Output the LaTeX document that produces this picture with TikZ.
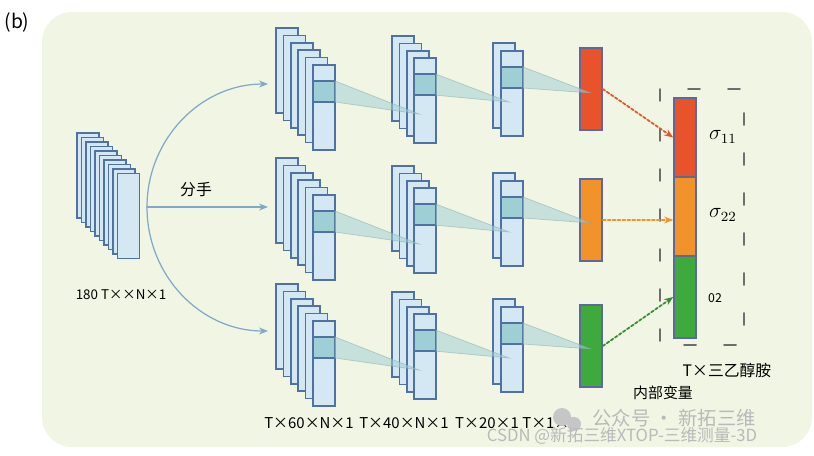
\documentclass[tikz,border=0pt]{standalone}
\usepackage{fontspec}
\newfontfamily\cjk{Noto Sans CJK SC}
\usepackage{tikz}
\usetikzlibrary{arrows.meta}
\definecolor{bgpaper}{HTML}{F1F5E3}
\definecolor{mapfill}{HTML}{D3E8F2}
\definecolor{mapline}{HTML}{4F72A2}
\definecolor{bandfill}{HTML}{9ECFD5}
\definecolor{funfill}{HTML}{A3CFD6}
\definecolor{splitblue}{HTML}{7EA9C9}
\definecolor{redbar}{HTML}{E9532B}
\definecolor{orangebar}{HTML}{F2922A}
\definecolor{greenbar}{HTML}{3EA93C}
\definecolor{barline}{HTML}{5B6A9A}
\definecolor{boxgray}{HTML}{6E6E6E}
\tikzset{
  fmap/.style={draw=mapline,fill=mapfill,line width=0.9pt},
  funnel/.style={fill=funfill,fill opacity=0.55,draw=funfill!80!black,draw opacity=0.5,line width=0.4pt},
  outbar/.style={draw=barline,line width=0.9pt,inner sep=0pt,minimum width=4.4mm,minimum height=16.4mm},
  splitarr/.style={->,draw=splitblue,line width=0.7pt,>={Stealth[length=1.8mm,width=1.4mm]}},
  dotarr/.style={->,line width=1pt,dash pattern=on 1.6pt off 1.2pt,>={Stealth[length=1.8mm,width=1.4mm]}},
  lbl/.style={font=\cjk\fontsize{8.5}{10}\selectfont,inner sep=1pt},
  biglbl/.style={font=\cjk\fontsize{9}{11}\selectfont,inner sep=1pt},
  wmark/.style={text=gray!55,inner sep=0pt}
}
% one stack of feature maps, front map with its band
\newcommand{\mapstack}[5]{%
  \foreach \k in {1,...,#4}
    \draw[fmap] ({#2+#5*(\k-1)},{#3+#5*(\k-1)}) rectangle ++(22,85);
  \draw[fmap,fill=bandfill] ({#2+#5*(#4-1)},{#3+#5*(#4-1)+16}) rectangle ++(22,21);
  \coordinate (#1-t) at ({#2+#5*(#4-1)+22},{#3+#5*(#4-1)+16});
  \coordinate (#1-b) at ({#2+#5*(#4-1)+22},{#3+#5*(#4-1)+37});
}

\begin{document}
\begin{tikzpicture}[x=0.2mm,y=-0.2mm,line cap=round]
\useasboundingbox (0,0) rectangle (814,455);
\fill[bgpaper,rounded corners=6mm] (42,12) rectangle (812,447);
\node[font=\cjk\fontsize{11}{13}\selectfont] (tag) at (17,22) {(b)};

\foreach \k in {0,...,9}
  \draw[fmap] ({77+4.5*\k},{133+4.5*\k}) rectangle ++(22,85);
\node[lbl,font=\cjk\fontsize{7.6}{9}\selectfont] (inlbl) at (121,295) {180 T××N×1};
\node[lbl,font=\cjk\fontsize{9}{11}\selectfont] (fen) at (196,190) {分手};

\foreach \r/\dy in {1/0,2/130,3/256}{
  \mapstack{a\r}{276}{28+\dy}{6}{7.4}
  \mapstack{b\r}{392}{36+\dy}{4}{7.4}
  \mapstack{c\r}{493}{43+\dy}{2}{8}
  \coordinate (ta\r) at (419,{114+\dy});
  \coordinate (tb\r) at (509,{102+\dy});
  \coordinate (tc\r) at (591,{93+\dy});
}

\node[outbar,fill=redbar] (o1) at (591,89) {};
\node[outbar,fill=orangebar] (o2) at (591,220) {};
\node[outbar,fill=greenbar] (o3) at (591,346) {};

\foreach \r in {1,2,3}{
  \draw[funnel] (a\r-t) -- (ta\r) -- (a\r-b) -- cycle;
  \draw[funnel] (b\r-t) -- (tb\r) -- (b\r-b) -- cycle;
  \draw[funnel] (c\r-t) -- (tc\r) -- (c\r-b) -- cycle;
}

\coordinate (split) at (147,207);
\coordinate (e1) at (268,84);
\coordinate (e2) at (268,207);
\coordinate (e3) at (268,331);
\draw[splitarr] (split) .. controls (147,139) and (201,84) .. (e1);
\draw[splitarr] (split) -- (e2);
\draw[splitarr] (split) .. controls (147,276) and (201,331) .. (e3);

\draw[boxgray,line width=1.1pt,dash pattern=on 2.4mm off 5.6mm] (660,89) rectangle (744,345);
\node[outbar,fill=redbar,minimum height=15.8mm] (t1) at (685,137.5) {};
\node[outbar,fill=orangebar,minimum height=15.8mm] (t2) at (685,216.5) {};
\node[outbar,fill=greenbar] (t3) at (685,297) {};
\node[font=\fontsize{12}{14}\selectfont] (s11) at (723,137) {$\sigma_{11}$};
\node[font=\fontsize{12}{14}\selectfont] (s22) at (723,215) {$\sigma_{22}$};
\node[font=\cjk\fontsize{7}{8}\selectfont] (o2lbl) at (715,298) {02};

\draw[dotarr,redbar] (o1.east) -- (t1.west);
\draw[dotarr,orangebar] (o2.east) -- (o2.east -| t2.west);
\draw[dotarr,greenbar!85!black] (o3.east) -- (t3.west);

\node[biglbl] (tea) at (727,370) {T×三乙醇胺};
\node[lbl] (inner) at (663,393) {内部变量};

\node[lbl] (d1) at (309,423) {T×60×N×1};
\node[lbl] (d2) at (404,423) {T×40×N×1};
\node[lbl] (d3) at (487,423) {T×20×1};
\node[lbl] (d4) at (550,423) {T×1×1};

\fill[gray!45] (562,417) circle (9);
\fill[gray!45] (574,424) circle (7);
\node[wmark,font=\cjk\fontsize{11}{13}\selectfont] (wm1) at (674,418) {公众号 · 新拓三维};
\node[wmark,font=\cjk\fontsize{9.5}{11}\selectfont] (wm2) at (622,436) {CSDN @新拓三维XTOP-三维测量-3D};
\end{tikzpicture}
\end{document}
